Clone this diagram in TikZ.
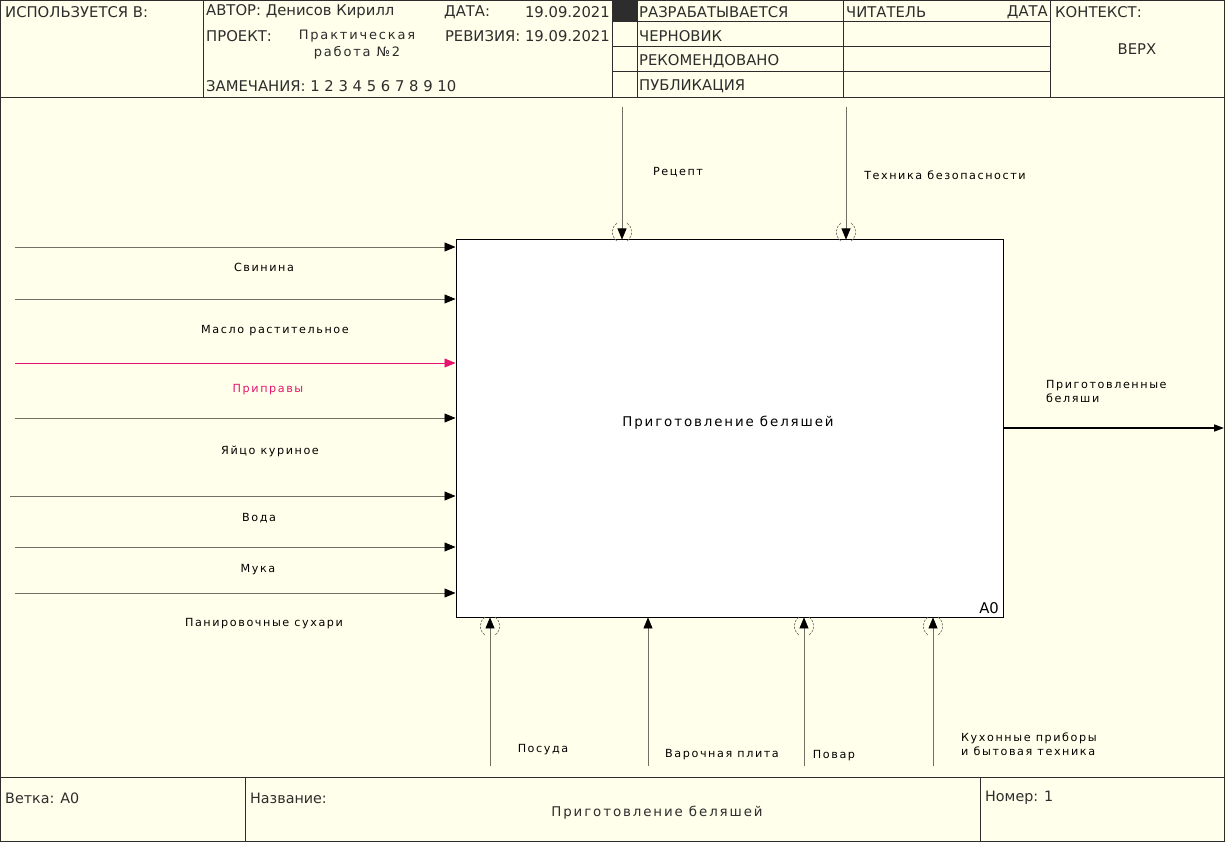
\documentclass[tikz,border=0pt]{standalone}
\usepackage{fontspec}
\setmainfont{DejaVu Sans}
\newfontfamily\lab[LetterSpace=14]{DejaVu Sans}
\usetikzlibrary{arrows.meta}
\definecolor{bg}{RGB}{255,255,235}
\definecolor{ln}{RGB}{112,112,100}
\definecolor{hd}{RGB}{45,45,45}
\definecolor{pk}{RGB}{230,20,110}
\begin{document}
\begin{tikzpicture}[x=1pt,y=-1pt,
  frame/.style={draw=hd,line width=0.9pt},
  htxt/.style={inner sep=0pt,anchor=west,text=hd,font=\fontsize{14.8}{17}\selectfont},
  ftxt/.style={htxt,font=\fontsize{14.3}{17}\selectfont},
  ltxt/.style={inner sep=0pt,text=black,font=\lab\fontsize{11.2}{14}\selectfont,align=left},
  arr/.style={draw=ln,line width=0.7pt,-{Triangle[length=11pt,width=9pt,color=black]}},
  tun/.style={draw=ln,line width=0.6pt,dash pattern=on 2.5pt off 1.2pt}]
\useasboundingbox (0,0) rectangle (1228,842);
\fill[bg] (0,0) rectangle (1228,842);
% outer frame and header/footer
\draw[frame] (0.5,0.5) rectangle (1224,841.5);
\draw[frame] (0,97) -- (1224,97);
\draw[frame] (0,777) -- (1224,777);
\draw[frame] (203,0) -- (203,97);
\draw[frame] (612,0) -- (612,97);
\draw[frame] (637,0) -- (637,97);
\draw[frame] (843,0) -- (843,97);
\draw[frame] (1050,0) -- (1050,97);
\foreach \yy in {21,46,71} \draw[frame] (612,\yy) -- (1050,\yy);
\fill[hd] (612,0) rectangle (637,21);
\draw[frame] (245,777) -- (245,842);
\draw[frame] (980,777) -- (980,842);
% header texts
\node[htxt] (h1) at (5,12) {ИСПОЛЬЗУЕТСЯ В:};
\node[htxt] (h2) at (206,12) {АВТОР: Денисов Кирилл};
\node[htxt] (h3) at (444,12) {ДАТА:};
\node[htxt,anchor=east] (h4) at (610,12) {19.09.2021};
\node[htxt] (h5) at (206,36) {ПРОЕКТ:};
\node[htxt,anchor=center,align=center,font=\lab\fontsize{13}{17}\selectfont] (h6) at (357,45) {Практическая\\работа №2};
\node[htxt,anchor=east] (h7) at (610,36) {РЕВИЗИЯ: 19.09.2021};
\node[htxt] (h8) at (206,86) {ЗАМЕЧАНИЯ: 1 2 3 4 5 6 7 8 9 10};
\node[htxt] (h9) at (639,12) {РАЗРАБАТЫВАЕТСЯ};
\node[htxt] (h10) at (639,36) {ЧЕРНОВИК};
\node[htxt] (h11) at (639,61) {РЕКОМЕНДОВАНО};
\node[htxt] (h12) at (639,86) {ПУБЛИКАЦИЯ};
\node[htxt] (h13) at (846,12) {ЧИТАТЕЛЬ};
\node[htxt,anchor=east] (h14) at (1048,12) {ДАТА};
\node[htxt] (h15) at (1055,12) {КОНТЕКСТ:};
\node[htxt,anchor=center] (h16) at (1137,49) {ВЕРХ};
% footer texts
\node[ftxt] (f1) at (5,798) {Ветка: А0};
\node[ftxt] (f2) at (250,798) {Название:};
\node[htxt,anchor=center,font=\lab\fontsize{13.4}{15}\selectfont] (f3) at (657,813) {Приготовление беляшей};
\node[ftxt] (f4) at (985,798) {Номер: 1};
% main box
\node[draw=black,line width=0.9pt,fill=white,minimum width=547pt,minimum height=377pt,inner sep=0pt,anchor=north west] (A0) at (455.5,239.5) {};
\node[inner sep=0pt,font=\lab\fontsize{13.4}{15}\selectfont] (A0t) at (728,423) {Приготовление беляшей};
\node[htxt,anchor=south east,text=black] (a0lab) at (999,614) {А0};
% inputs
\foreach \n/\yy/\xs in {i1/247/15,i2/299/15,i3/363/15,i4/418/15,i5/496/10,i6/547/15,i7/593/15}{
  \coordinate (\n) at (\xs,\yy);
}
\foreach \n in {i1,i2,i4,i5,i6,i7} \draw[arr] (\n) -- (A0.west |- \n);
\draw[arr,draw=pk,-{Triangle[length=11pt,width=9pt,color=pk]}] (i3) -- (A0.west |- i3);
\node[ltxt] (l1) at (264,267) {Свинина};
\node[ltxt] (l2) at (275,331) {Масло растительное};
\node[ltxt,text=pk] (l3) at (268,390) {Приправы};
\node[ltxt] (l4) at (270,451) {Яйцо куриное};
\node[ltxt] (l5) at (259,518) {Вода};
\node[ltxt] (l6) at (258,570) {Мука};
\node[ltxt] (l7) at (264,624) {Панировочные сухари};
% controls
\coordinate (c1) at (622,107);
\coordinate (c2) at (846,107);
\draw[arr] (c1) -- (c1 |- A0.north);
\draw[arr] (c2) -- (c2 |- A0.north);
\node[ltxt] (lc1) at (678,172) {Рецепт};
\node[ltxt] (lc2) at (945,175) {Техника безопасности};
% mechanisms
\coordinate (m1) at (490,766);
\coordinate (m2) at (648,766);
\coordinate (m3) at (804,766);
\coordinate (m4) at (933,766);
\foreach \n in {m1,m2,m3,m4} \draw[arr] (\n) -- (\n |- A0.south);
\node[ltxt] (lm1) at (543,750) {Посуда};
\node[ltxt] (lm2) at (722,755) {Варочная плита};
\node[ltxt] (lm3) at (834,756) {Повар};
\node[ltxt,anchor=west] (lm4) at (961,744) {Кухонные приборы\\и бытовая техника};
% output
\coordinate (o1) at (1224,428);
\draw[draw=black,line width=1.6pt,-{Triangle[length=10pt,width=7pt]}] (A0.east |- o1) -- (o1);
\node[ltxt,anchor=west] (lo) at (1046,391) {Приготовленные\\беляши};
% tunnels
\foreach \xx in {622,846}{
  \draw[tun] (\xx-5,241) arc[start angle=125,end angle=235,radius=11];
  \draw[tun] (\xx+5,241) arc[start angle=55,end angle=-55,radius=11];
}
\foreach \xx in {490,804,933}{
  \draw[tun] (\xx-5,635) arc[start angle=125,end angle=235,radius=11];
  \draw[tun] (\xx+5,635) arc[start angle=55,end angle=-55,radius=11];
}
\end{tikzpicture}
\end{document}
